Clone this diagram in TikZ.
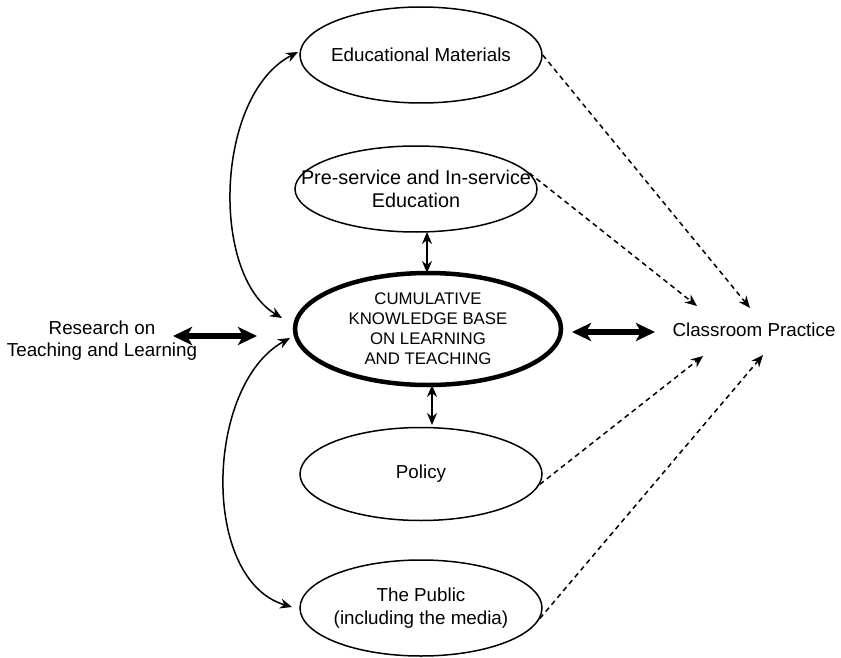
\documentclass[tikz,border=0pt]{standalone}
\usepackage{fontspec}
\setmainfont{Liberation Sans}
\usetikzlibrary{arrows.meta,shapes.geometric}
\begin{document}
\begin{tikzpicture}[x=1pt,y=-1pt,
  oval/.style={ellipse,draw,line width=1.5pt,inner xsep=-60pt,inner ysep=-10pt,
    minimum width=242pt,minimum height=96pt,align=center,
    font=\fontsize{18.8}{23}\selectfont},
  lbl/.style={align=center,inner sep=0pt,font=\fontsize{18.8}{22}\selectfont},
  twoway/.style={line width=1.5pt,{Stealth[length=12pt,width=10pt]}-{Stealth[length=12pt,width=10pt]}},
  bigway/.style={line width=6.5pt,{Stealth[length=19pt,width=18pt,inset=5pt]}-{Stealth[length=19pt,width=18pt,inset=5pt]}},
  dsh/.style={line width=1.5pt,dash pattern=on 5pt off 4pt,-{Stealth[length=12pt,width=10pt]}}
]
\useasboundingbox (0,0) rectangle (841,658);

\node[oval] (em) at (421,55) {Educational Materials};
\node[oval,minimum height=86pt,font=\fontsize{19.8}{23}\selectfont] (ps) at (416,189) {Pre-service and In-service\\Education};
\node[oval,line width=4.5pt,minimum width=266pt,minimum height=112pt,
  font=\fontsize{16.8}{20}\selectfont] (cb) at (428,329)
  {CUMULATIVE\\KNOWLEDGE BASE\\ON LEARNING\\AND TEACHING};
\node[oval,minimum height=93pt] (pol) at (421,474) {Policy};
\node[oval] (pub) at (421,608) {The Public\\(including the media)};

\node[lbl] (rs) at (102,341) {Research on\\Teaching and Learning};
\node[lbl] (cp) at (754,330) {Classroom Practice};

% thick two-way arrows
\coordinate (l1) at (173,336);
\coordinate (l2) at (257,336);
\coordinate (r1) at (572,332);
\coordinate (r2) at (655,332);
\draw[bigway] (l1) -- (l2);
\draw[bigway] (r1) -- (r2);

% short vertical arrows
\coordinate (v1) at (427,232);
\coordinate (v2) at (427,273);
\coordinate (w1) at (432,385);
\coordinate (w2) at (432,425);
\draw[twoway] (v1) -- (v2);
\draw[twoway] (w1) -- (w2);

% curved arrows on the left
\coordinate (a1) at (282,318);
\coordinate (a2) at (298,52);
\coordinate (b1) at (290,338);
\coordinate (b2) at (292,607);
\draw[twoway] (a1) .. controls (210,275) and (215,95) .. (a2);
\draw[twoway] (b1) .. controls (205,385) and (200,580) .. (b2);

% dashed arrows to classroom practice
\coordinate (c1) at (750,308);
\coordinate (c2) at (697,306);
\coordinate (c3) at (703,356);
\coordinate (c4) at (763,355);
\draw[dsh] (em.east) -- (c1);
\draw[dsh] (ps.8) -- (c2);
\draw[dsh] (pol.-5) -- (c3);
\draw[dsh] (pub.-5) -- (c4);
\end{tikzpicture}
\end{document}
